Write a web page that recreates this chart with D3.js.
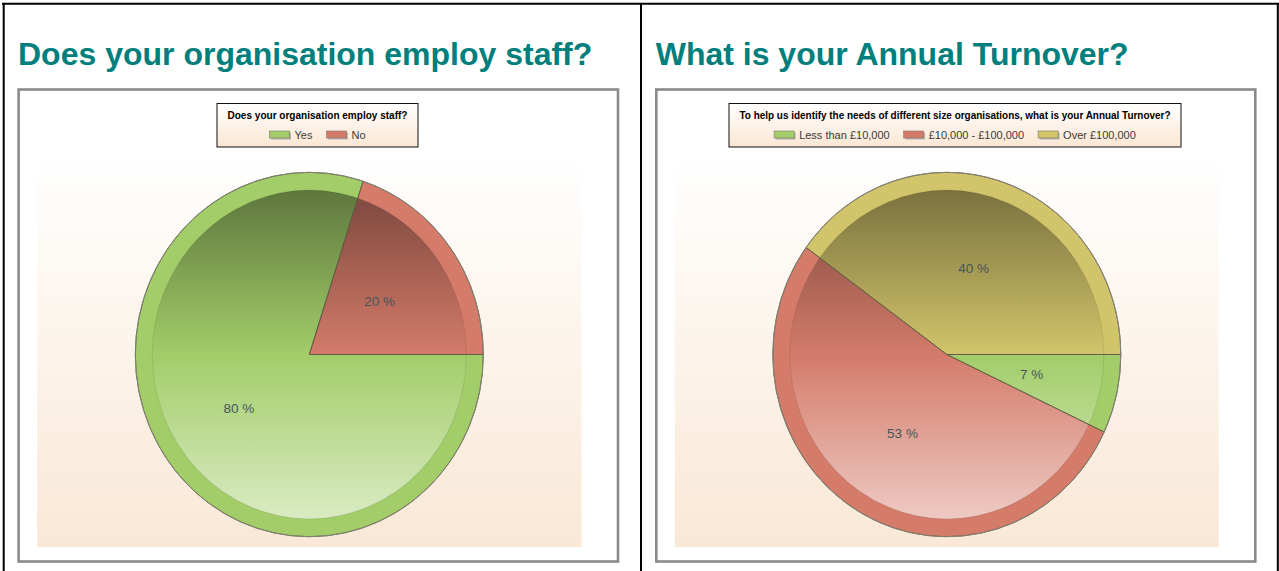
<!DOCTYPE html>
<html><head><meta charset="utf-8">
<script src="https://cdn.jsdelivr.net/npm/d3@7"></script>
<style>
html,body{margin:0;padding:0;background:#fff;}
svg{display:block;font-family:"Liberation Sans",Arial,sans-serif;}
</style></head>
<body>
<svg id="c" width="1279" height="571"></svg>
<script>
// ---------- data ----------
const staffTitle = "Does your organisation employ staff?";
const staffLegendTitle = "Does your organisation employ staff?";
const staffCategories = ["Yes", "No"];
const staffValues = [80, 20];

const turnoverTitle = "What is your Annual Turnover?";
const turnoverLegendTitle = "To help us identify the needs of different size organisations, what is your Annual Turnover?";
const turnoverCategories = ["Less than £10,000", "£10,000 - £100,000", "Over £100,000"];
const turnoverValues = [7, 53, 40];

const staffColors = ["#a2cd69", "#d47b6a"];
const turnoverColors = ["#a2cd69", "#d47b6a", "#d2c46b"];

// ---------- drawing ----------
const svg = d3.select("#c");
const defs = svg.append("defs");

function lin(id, stops) {
  const g = defs.append("linearGradient").attr("id", id)
    .attr("x1", 0).attr("y1", 0).attr("x2", 0).attr("y2", 1);
  stops.forEach(s => g.append("stop").attr("offset", s[0])
    .attr("stop-color", s[1]).attr("stop-opacity", s[2] === undefined ? 1 : s[2]));
}
lin("bgGrad", [[0, "#ffffff"], [1, "#f9e8d6"]]);
lin("legGrad", [[0, "#ffffff"], [1, "#fbe6d3"]]);
lin("shade", [[0, "#000000", 0.42], [0.5, "#000000", 0], [0.5, "#ffffff", 0], [1, "#ffffff", 0.6]]);

// outer black borders
svg.append("line").attr("x1", 2).attr("x2", 1279).attr("y1", 3.7).attr("y2", 3.7).attr("stroke", "#000").attr("stroke-width", 2);
svg.append("line").attr("x1", 3.7).attr("x2", 3.7).attr("y1", 3).attr("y2", 571).attr("stroke", "#000").attr("stroke-width", 2);
svg.append("line").attr("x1", 641).attr("x2", 641).attr("y1", 3).attr("y2", 571).attr("stroke", "#000").attr("stroke-width", 2);
svg.append("line").attr("x1", 1277.8).attr("x2", 1277.8).attr("y1", 3).attr("y2", 571).attr("stroke", "#000").attr("stroke-width", 2);

const R = 174, RIN = 157, K = 1.047;

function panel(opts) {
  const { left, title, legendTitle, legendTitleWidth, cats, vals, colors, frameW } = opts;
  const g = svg.append("g");
  g.append("text").attr("x", left + 16).attr("y", 65)
    .attr("font-size", 32).attr("font-weight", "bold").attr("fill", "#007f7c")
    .text(title);

  const fx = left + 16.6, fy = 89.5, fh = 472;
  // frame
  g.append("rect").attr("x", fx).attr("y", fy).attr("width", frameW).attr("height", fh)
    .attr("fill", "#fff").attr("stroke", "#8a8a8a").attr("stroke-width", 2.6);

  // plot background
  const bx = fx + 18.5, bw = frameW - 55, by = 158, bh = 547 - 158;
  g.append("rect").attr("x", bx).attr("y", by).attr("width", bw).attr("height", bh)
    .attr("fill", "url(#bgGrad)");

  // legend
  const lg = g.append("g");
  const lcx = fx + frameW / 2 - 0.8;
  lg.append("text").attr("x", lcx).attr("y", 119).attr("text-anchor", "middle")
    .attr("font-size", 11.5).attr("font-weight", "bold").attr("fill", "#000")
    .attr("textLength", legendTitleWidth).attr("lengthAdjust", "spacingAndGlyphs")
    .text(legendTitle);
  const items = lg.append("g");
  let x = 0;
  cats.forEach((c, i) => {
    const it = items.append("g").attr("transform", `translate(${x},0)`);
    it.append("rect").attr("x", 1.5).attr("y", 132.5).attr("width", 20).attr("height", 7)
      .attr("fill", "#9a9a9a").attr("opacity", 0.7);
    it.append("rect").attr("x", 0).attr("y", 131).attr("width", 20).attr("height", 7)
      .attr("fill", colors[i]).attr("stroke", "#7a7a6a").attr("stroke-width", 0.6);
    const t = it.append("text").attr("x", 25).attr("y", 138.5).attr("font-size", 11)
      .attr("fill", "#3a3a3a").text(c);
    const w = t.node().getComputedTextLength();
    x += 25 + w + 14;
  });
  const totalW = x - 14;
  const legW = legendTitleWidth + 21;
  items.attr("transform", `translate(${lcx - totalW / 2},0)`);
  lg.insert("rect", ":first-child").attr("x", lcx - legW / 2).attr("y", 103.5)
    .attr("width", legW).attr("height", 43.5)
    .attr("fill", "url(#legGrad)").attr("stroke", "#111").attr("stroke-width", 1);

  // pie
  const cx = bx + bw / 2, cy = 354.5;
  const pie = d3.pie().sort(null).value(d => d)
    .startAngle(Math.PI / 2).endAngle(Math.PI / 2 + 2 * Math.PI);
  const arcs = pie(vals);
  const outer = d3.arc().innerRadius(0).outerRadius(R);
  const inner = d3.arc().innerRadius(0).outerRadius(RIN);
  const pg = g.append("g").attr("transform", `translate(${cx},${cy}) scale(1,${K})`);
  pg.selectAll("path.o").data(arcs).join("path").attr("class", "o")
    .attr("d", outer).attr("fill", (d, i) => colors[i]);
  pg.selectAll("path.i").data(arcs).join("path").attr("class", "i")
    .attr("d", inner).attr("fill", (d, i) => colors[i]);
  pg.append("circle").attr("r", RIN).attr("fill", "url(#shade)");
  pg.append("circle").attr("r", RIN).attr("fill", "none")
    .attr("stroke", "#000").attr("stroke-opacity", 0.07).attr("stroke-width", 1.2)
    .attr("vector-effect", "non-scaling-stroke");
  pg.selectAll("path.s").data(arcs).join("path").attr("class", "s")
    .attr("d", outer).attr("fill", "none").attr("stroke", "#5e5a46").attr("stroke-width", 0.9)
    .attr("stroke-opacity", 0.85).attr("vector-effect", "non-scaling-stroke");
  pg.append("circle").attr("r", R).attr("fill", "none")
    .attr("stroke", "#7f7f72").attr("stroke-width", 1).attr("vector-effect", "non-scaling-stroke");

  // labels
  const labArc = d3.arc().innerRadius(0).outerRadius(R);
  g.selectAll("text.lab").data(arcs).join("text").attr("class", "lab")
    .attr("x", d => cx + labArc.centroid(d)[0])
    .attr("y", d => cy + labArc.centroid(d)[1] * K)
    .attr("text-anchor", "middle").attr("dy", "0.35em")
    .attr("font-size", 13.5).attr("fill", "#46545a")
    .text(d => d.data + " %");
}

panel({ left: 2, title: staffTitle, legendTitle: staffLegendTitle, legendTitleWidth: 180,
  cats: staffCategories, vals: staffValues, colors: staffColors, frameW: 599.4 });
panel({ left: 639.7, title: turnoverTitle, legendTitle: turnoverLegendTitle, legendTitleWidth: 431,
  cats: turnoverCategories, vals: turnoverValues, colors: turnoverColors, frameW: 599 });
</script>
</body></html>
